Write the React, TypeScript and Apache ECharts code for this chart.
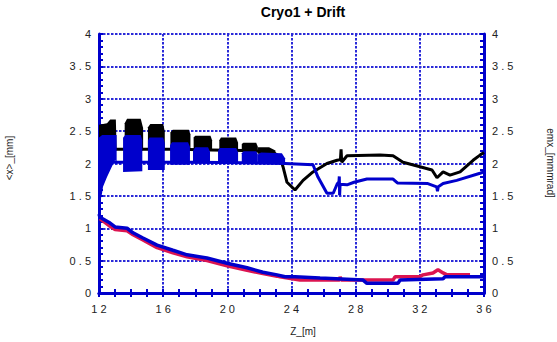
import React, { useEffect, useRef } from "react";
import * as echarts from "echarts";

const BLUE = "#0000cc";
const GRIDBLUE = "#2a2ad8";
const RED = "#dc1450";
const FONT = "'Liberation Sans', Arial, sans-serif";

const xTicks = [12, 16, 20, 24, 28, 32, 36];
const xTickLabels = ["1 2", "1 6", "2 0", "2 4", "2 8", "3 2", "3 6"];
const yTicks = [0, 0.5, 1, 1.5, 2, 2.5, 3, 3.5, 4];
const yTickLabels = ["0", "0 . 5", "1", "1 . 5", "2", "2 . 5", "3", "3 . 5", "4"];

// black <x> line (outside the dense oscillation blocks)
const blackLine: number[][] = [
  [12, 2.22], [13.3, 2.22], [15, 2.22], [17, 2.22], [19, 2.21], [21, 2.2], [22.8, 2.18],
  [23.28, 2.1], [23.47, 1.95], [23.72, 1.71], [24.22, 1.59], [24.72, 1.74], [25.34, 1.87],
  [26.21, 2.0], [26.84, 2.05], [27.05, 2.06], [27.09, 2.22], [27.13, 2.02], [27.46, 2.12],
  [29.52, 2.13], [30.33, 2.12], [30.95, 2.02], [32.01, 1.95], [32.76, 1.9], [33.07, 1.78],
  [33.45, 1.87], [33.88, 1.82], [34.51, 1.87], [35.32, 2.05], [35.75, 2.13], [36, 2.17],
];

// blue <x> line
const blueLine: number[][] = [
  [12, 2.02], [15, 2.02], [18, 2.02], [21, 2.01], [23.6, 2.0], [25.34, 1.98], [25.65, 1.79],
  [26.21, 1.54], [26.6, 1.54], [26.84, 1.68], [26.96, 1.72], [26.98, 1.8], [27.0, 1.51],
  [27.03, 1.68], [27.46, 1.67], [27.9, 1.71], [28.7, 1.76], [30.33, 1.76], [30.6, 1.7],
  [32.5, 1.69], [33.05, 1.64], [33.1, 1.57], [33.15, 1.64], [33.45, 1.69], [34.3, 1.74],
  [35.75, 1.85], [36, 1.87],
];

// envelopes of the dense oscillation blocks (black)
const blackBlocks: number[][][] = [
  [[12, 2.2], [12, 2.6], [12.5, 2.62], [12.7, 2.68], [13.05, 2.68], [13.1, 2.2]],
  [[13.6, 2.2], [13.6, 2.62], [13.75, 2.69], [14.6, 2.69], [14.75, 2.55], [14.75, 2.2]],
  [[15.05, 2.2], [15.05, 2.56], [15.2, 2.61], [16.0, 2.61], [16.1, 2.5], [16.1, 2.2]],
  [[16.45, 2.2], [16.45, 2.48], [16.6, 2.52], [17.6, 2.52], [17.7, 2.45], [17.7, 2.2]],
  [[17.9, 2.2], [17.9, 2.4], [18.0, 2.43], [18.95, 2.43], [19.05, 2.36], [19.05, 2.2]],
  [[19.5, 2.2], [19.5, 2.36], [19.6, 2.4], [20.55, 2.4], [20.67, 2.32], [20.67, 2.2]],
  [[20.9, 2.18], [20.9, 2.3], [21.0, 2.32], [21.8, 2.32], [21.9, 2.26], [21.9, 2.18]],
  [[21.9, 2.15], [21.9, 2.25], [22.6, 2.25], [23.0, 2.2], [23.0, 2.14]],
];

// envelopes of the dense oscillation blocks (blue)
const blueBlocks: number[][][] = [
  [[12, 1.2], [12, 2.4], [12.2, 2.44], [13.1, 2.44], [13.1, 2.02], [13.0, 2.05], [12.8, 1.95],
   [12.5, 1.79], [12.25, 1.64], [12.19, 1.54], [12.06, 1.39]],
  [[13.5, 1.87], [13.5, 2.4], [13.65, 2.44], [14.6, 2.44], [14.7, 2.36], [14.7, 1.88]],
  [[15.05, 1.9], [15.05, 2.35], [15.15, 2.4], [16.0, 2.4], [16.1, 2.32], [16.1, 1.9]],
  [[16.43, 1.98], [16.43, 2.28], [16.55, 2.33], [17.55, 2.33], [17.67, 2.26], [17.67, 1.98]],
  [[17.86, 2.0], [17.86, 2.2], [18.0, 2.25], [18.8, 2.25], [18.92, 2.18], [18.92, 2.0]],
  [[19.42, 2.0], [19.42, 2.2], [19.55, 2.24], [20.55, 2.24], [20.67, 2.17], [20.67, 2.0]],
  [[20.9, 2.0], [20.9, 2.16], [21.0, 2.19], [21.8, 2.19], [21.9, 2.14], [21.9, 2.0]],
  [[21.9, 2.0], [21.9, 2.14], [22.1, 2.17], [23.4, 2.16], [23.6, 2.08], [23.6, 2.0]],
];

// lower blue line (emittance-like)
const blueLow: number[][] = [
  [12.0, 1.22], [12.06, 1.17], [12.69, 1.08], [13.0, 1.02], [13.75, 1.0], [14.12, 0.93],
  [14.74, 0.85], [15.62, 0.74], [16.61, 0.66], [17.49, 0.59], [18.73, 0.54], [19.98, 0.46],
  [21.23, 0.39], [22.22, 0.32], [23.1, 0.28], [23.6, 0.25], [24.22, 0.25], [25.78, 0.23],
  [28.46, 0.2], [28.7, 0.15], [30.64, 0.15], [30.77, 0.2], [33.45, 0.22], [33.57, 0.25], [36, 0.25],
];

// red line
const redLow: number[][] = [
  [12.06, 1.15], [12.69, 1.03], [13.0, 0.98], [13.75, 0.96], [14.12, 0.9], [14.74, 0.82],
  [15.62, 0.7], [16.61, 0.62], [17.49, 0.56], [18.73, 0.5], [19.98, 0.42], [21.23, 0.35],
  [22.22, 0.3], [23.1, 0.26], [23.28, 0.25], [24.53, 0.2], [27.0, 0.2], [27.03, 0.25],
  [27.1, 0.2], [30.33, 0.2], [30.45, 0.25], [32.0, 0.25], [32.2, 0.28], [32.82, 0.31],
  [33.13, 0.36], [33.45, 0.31], [33.7, 0.28], [35.13, 0.28],
];

function blockSeries(blocks: number[][][], color: string, z: number) {
  return {
    type: "custom",
    z,
    xAxisIndex: 0,
    yAxisIndex: 0,
    data: blocks.map((b, i) => [b[0][0], b[0][1], i]),
    renderItem: (_params: any, api: any) => {
      const idx = api.value(2);
      const pts = blocks[idx].map((p) => api.coord(p));
      return { type: "polygon", shape: { points: pts }, style: { fill: color } };
    },
  };
}

export default function App() {
  const ref = useRef<HTMLDivElement>(null);
  useEffect(() => {
    if (!ref.current) return;
    const chart = echarts.init(ref.current, null, { renderer: "svg" });
    const axisLine = { show: true, lineStyle: { color: BLUE, width: 3 } };
    const tick = { show: true, inside: true, length: 4, lineStyle: { color: BLUE, width: 2 } };
    const split = { show: true, lineStyle: { color: GRIDBLUE, width: 2, type: [2.5, 1.5] } };
    const xLab = {
      fontSize: 11, color: "#222", fontFamily: FONT, margin: 10,
      formatter: (v: number) => xTickLabels[xTicks.indexOf(v)] ?? "",
    };
    const yLab = {
      fontSize: 11, color: "#222", fontFamily: FONT, margin: 8,
      formatter: (v: number) => yTickLabels[yTicks.findIndex((t) => Math.abs(t - v) < 1e-6)] ?? "",
    };
    const xBase = { type: "value", min: 12, max: 36, interval: 4, axisLine, axisTick: tick,
      minorTick: { show: true, splitNumber: 4, length: 4, lineStyle: { color: BLUE, width: 2 } } };
    const yBase = { type: "value", min: 0, max: 4, interval: 0.5, axisLine, axisTick: tick,
      minorTick: { show: true, splitNumber: 5, length: 4, lineStyle: { color: BLUE, width: 2 } } };
    chart.setOption({
      animation: false,
      backgroundColor: "#fff",
      grid: { left: 99, right: 73, top: 34, bottom: 49 },
      xAxis: [
        { ...xBase, position: "bottom", splitLine: split, axisLabel: xLab },
        { ...xBase, position: "top", splitLine: { show: false }, axisLabel: { show: false } },
      ],
      yAxis: [
        { ...yBase, position: "left", splitLine: split, axisLabel: yLab },
        { ...yBase, position: "right", splitLine: { show: false }, axisLabel: yLab },
      ],
      graphic: [
        { type: "text", x: 303, y: 5, style: { text: "Cryo1 + Drift", font: `bold 14px ${FONT}`, fill: "#000", textAlign: "center" } },
        { type: "text", x: 303, y: 326, style: { text: "Z_[m]", font: `10px ${FONT}`, fill: "#222", textAlign: "center" } },
        { type: "text", x: 9, y: 158, rotation: Math.PI / 2, style: { text: "<x>_[mm]", font: `10px ${FONT}`, fill: "#222", textAlign: "center", textVerticalAlign: "middle" } },
        { type: "text", x: 550, y: 163, rotation: -Math.PI / 2, style: { text: "emx_[mmmrad]", font: `10px ${FONT}`, fill: "#222", textAlign: "center", textVerticalAlign: "middle" } },
      ],
      series: [
        blockSeries(blackBlocks, "#000", 2),
        { type: "line", data: blackLine, z: 2, symbol: "none", lineStyle: { color: "#000", width: 3 } },
        blockSeries(blueBlocks, BLUE, 3),
        { type: "line", data: blueLine, z: 3, symbol: "none", lineStyle: { color: BLUE, width: 3 } },
        { type: "line", data: redLow, z: 4, symbol: "none", lineStyle: { color: RED, width: 3.5 } },
        { type: "line", data: blueLow, z: 5, symbol: "none", lineStyle: { color: BLUE, width: 3.5 } },
      ],
    });
    return () => chart.dispose();
  }, []);
  return <div ref={ref} style={{ position: "absolute", left: 0, top: 0, width: 557, height: 342 }} />;
}
